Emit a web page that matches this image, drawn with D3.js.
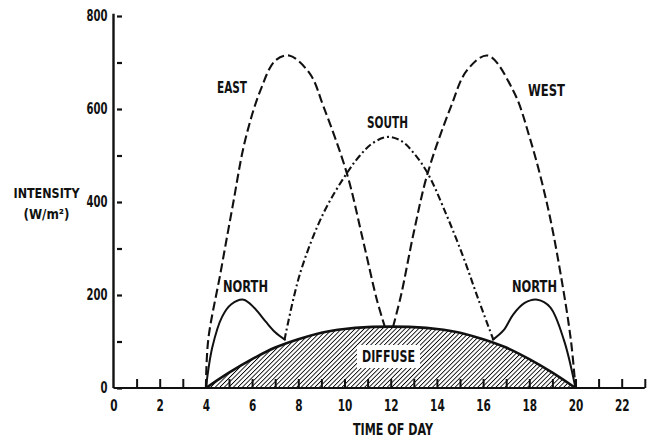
<!DOCTYPE html>
<html>
<head>
<meta charset="utf-8">
<script src="https://cdn.jsdelivr.net/npm/d3@7"></script>
<style>
  html, body { margin: 0; padding: 0; background: #fff; }
  svg text { font-family: "DejaVu Sans Condensed", "DejaVu Sans", sans-serif; fill: #111; font-weight: bold; }
</style>
</head>
<body>
<svg id="chart" width="651" height="441"></svg>
<script>
// ---- data ----
const xTickValues = [1,2,3,4,5,6,7,8,9,10,11,12,13,14,15,16,17,18,19,20,21,22,23];
const xTickLabels = [0,2,4,6,8,10,12,14,16,18,20,22];
const yTickValues = [0,100,200,300,400,500,600,700,800];
const yTickLabels = [0,200,400,600,800];

const diffuseHours  = [4,5,6,7,8,9,10,11,12,13,14,15,16,17,18,19,20];
const diffuseValues = [0,33,62,87,105,119,127,131,132,131,127,119,105,87,62,33,0];

const eastHours  = [4, 4.1, 4.63, 5.15, 5.7, 6.36, 7.0, 7.6, 8.5, 9.1, 10.1, 10.8, 11.4, 11.75];
const eastValues = [0, 103, 247, 389, 533, 640, 704, 715, 676, 604, 462, 318, 190, 131];

const westHours  = [12.1, 12.45, 13.0, 13.6, 14.6, 15.3, 16.2, 17.3, 18.05, 18.8, 19.35, 19.8, 20];
const westValues = [131, 200, 335, 462, 604, 683, 715, 640, 533, 389, 247, 103, 0];

const southHours  = [7.4, 8.08, 9.08, 10.1, 10.67, 11.23, 11.9, 12.5, 13.0, 13.6, 14.4, 15.14, 15.8, 16.45];
const southValues = [103, 247, 375, 462, 500, 527, 540, 530, 505, 462, 374, 282, 190, 103];

const northAmHours  = [4, 4.28, 4.7, 5.1, 5.63, 6.1, 6.6, 7.0, 7.45];
const northAmValues = [0, 88, 153, 180, 190, 172, 142, 120, 103];
const northPmHours  = [16.4, 16.9, 17.3, 17.8, 18.35, 18.9, 19.5, 20];
const northPmValues = [103, 125, 158, 183, 190, 174, 103, 0];

// ---- chart ----
const svg = d3.select("#chart");
const x = d3.scaleLinear().domain([0, 22]).range([113.5, 621.7]);
const y = d3.scaleLinear().domain([0, 800]).range([388, 16]);

const defs = svg.append("defs");
const pat = defs.append("pattern")
  .attr("id", "hatch").attr("patternUnits", "userSpaceOnUse")
  .attr("width", 3.2).attr("height", 3.2)
  .attr("patternTransform", "rotate(45)");
pat.append("line").attr("x1", 0).attr("y1", -1).attr("x2", 0).attr("y2", 4.2)
  .attr("stroke", "#000").attr("stroke-width", 1.7);

const zip = (hs, vs) => hs.map((h, i) => [h, vs[i]]);
const curve = d3.curveCatmullRom.alpha(0.5);

// diffuse area
const area = d3.area().x(d => x(d[0])).y0(y(0)).y1(d => y(d[1])).curve(curve);
svg.append("path").datum(zip(diffuseHours, diffuseValues))
  .attr("d", area).attr("fill", "url(#hatch)");

// x axis: baseline + upward ticks
svg.append("line").attr("x1", x(0)).attr("x2", x(23)).attr("y1", y(0)).attr("y2", y(0))
  .attr("stroke", "#111").attr("stroke-width", 2.2);
const xAxisTicks = d3.axisTop(x).tickValues(xTickValues).tickSize(9).tickFormat("");
const gxt = svg.append("g").attr("transform", `translate(0,${y(0)})`).call(xAxisTicks);
gxt.select(".domain").remove();
gxt.selectAll(".tick line").attr("stroke", "#111").attr("stroke-width", 2);

function squeeze(sel, perChar) {
  sel.each(function() {
    const t = d3.select(this);
    const n = t.text().length;
    t.attr("textLength", n * perChar).attr("lengthAdjust", "spacingAndGlyphs");
  });
}

const xAxisLabels = d3.axisBottom(x).tickValues(xTickLabels).tickSize(0).tickPadding(12);
const gxl = svg.append("g").attr("transform", `translate(0,${y(0)})`).call(xAxisLabels);
gxl.select(".domain").remove();
gxl.selectAll(".tick text").attr("font-size", 15).attr("font-family", null).attr("fill", "#111");
squeeze(gxl.selectAll(".tick text"), 7.3);

// y axis: line + right-side ticks + left labels
svg.append("line").attr("x1", x(0)).attr("x2", x(0)).attr("y1", y(805)).attr("y2", y(0))
  .attr("stroke", "#111").attr("stroke-width", 2.4);
const yAxisTicks = d3.axisRight(y).tickValues(yTickValues).tickSize(5).tickFormat("");
const gyt = svg.append("g").attr("transform", `translate(${x(0) + 3.5},0)`).call(yAxisTicks);
gyt.select(".domain").remove();
gyt.selectAll(".tick line").attr("stroke", "#111").attr("stroke-width", 2.2);

const yAxisLabels = d3.axisLeft(y).tickValues(yTickLabels).tickSize(0).tickPadding(6);
const gyl = svg.append("g").attr("transform", `translate(${x(0)},0)`).call(yAxisLabels);
gyl.select(".domain").remove();
gyl.selectAll(".tick text").attr("font-size", 15).attr("font-family", null).attr("fill", "#111");
squeeze(gyl.selectAll(".tick text"), 7);

// curves
const line = d3.line().x(d => x(d[0])).y(d => y(d[1])).curve(curve);
svg.append("path").datum(zip(diffuseHours, diffuseValues)).attr("d", line)
  .attr("fill", "none").attr("stroke", "#111").attr("stroke-width", 2.6);

function drawSeries(hs, vs, dash, w) {
  svg.append("path").datum(zip(hs, vs)).attr("d", line)
    .attr("fill", "none").attr("stroke", "#111").attr("stroke-width", w)
    .attr("stroke-dasharray", dash).attr("stroke-linejoin", "round");
}
drawSeries(eastHours, eastValues, "9,4", 2.1);
drawSeries(westHours, westValues, "9,4", 2.1);
drawSeries(southHours, southValues, "7,3,2,3", 2.1);
drawSeries(northAmHours, northAmValues, null, 2);
drawSeries(northPmHours, northPmValues, null, 2);

// DIFFUSE label with white box
svg.append("rect").attr("x", 357).attr("y", 345).attr("width", 63).attr("height", 23).attr("fill", "#fff");
function label(t, cx, cy, w, size = 15) {
  return svg.append("text").attr("x", cx).attr("y", cy).attr("text-anchor", "middle")
    .attr("dominant-baseline", "central").attr("font-size", size)
    .attr("textLength", w).attr("lengthAdjust", "spacingAndGlyphs").text(t);
}
label("DIFFUSE", 388.5, 357, 53);
label("EAST", 232, 88, 30);
label("SOUTH", 387.5, 123, 41);
label("WEST", 546.5, 91, 37);
label("NORTH", 245.5, 287, 45);
label("NORTH", 534.5, 287, 45);
label("INTENSITY", 46.5, 193, 66, 14);
label("(W/m²)", 46.5, 213.5, 46, 14);
label("TIME OF DAY", 393, 430, 80);
</script>
</body>
</html>
